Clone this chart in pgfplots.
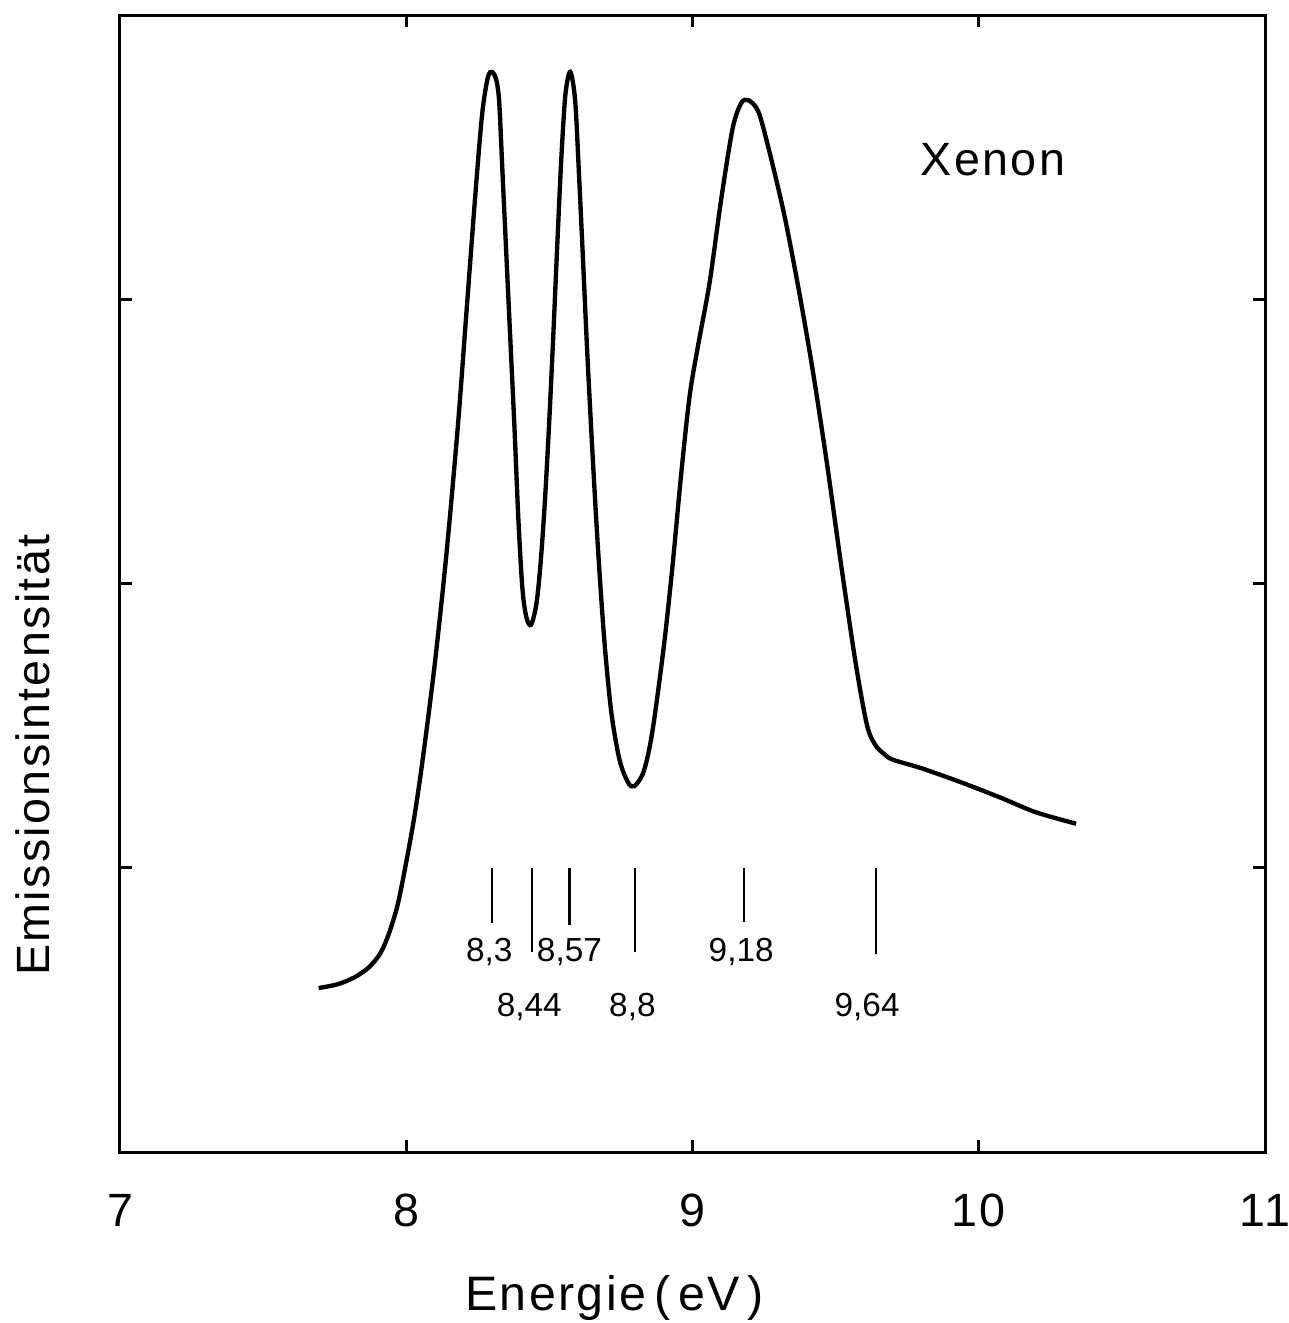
\documentclass[border=0pt]{standalone}
\usepackage{pgfplots}
\pgfplotsset{compat=1.18}
\usepackage{fontspec}
\setmainfont{Liberation Sans}[LetterSpace=5]
\newfontfamily\smallfont{Liberation Sans}[LetterSpace=0]
\begin{document}
\begin{tikzpicture}
\begin{axis}[
  scale only axis,
  width=343.5pt, height=341.1pt,
  xmin=7, xmax=11, ymin=0, ymax=4,
  xtick={7,8,9,10,11},
  ytick={1,2,3}, yticklabels={},
  tick align=inside,
  major tick length=3.6pt,
  axis line style={line width=0.9pt},
  every tick/.style={line width=0.9pt, black},
  /pgf/number format/assume math mode=true,
  xticklabel style={anchor=center, yshift=-17.5pt, font=\fontsize{14}{16}\selectfont},
  xlabel={Energie\,(\,eV\,)},
  xlabel style={at={(axis description cs:0.432,-0.128)}, anchor=center, font=\fontsize{14.5}{17}\selectfont},
  ylabel={Emissionsintensität},
  ylabel style={at={(axis description cs:-0.076,0.349)}, anchor=center, rotate=0, font=\fontsize{14}{17}\selectfont},
  clip=false,
]
\addplot[line width=1.3pt, smooth, tension=0.5] coordinates {
(7.694,0.577) (7.760,0.590) (7.820,0.615) (7.870,0.650) (7.910,0.700) (7.940,0.770)
(7.970,0.870) (8.000,1.020) (8.030,1.190) (8.060,1.400) (8.100,1.720) (8.140,2.100)
(8.180,2.550) (8.210,2.950) (8.240,3.350) (8.265,3.650) (8.285,3.780) (8.300,3.800)
(8.315,3.770) (8.325,3.690) (8.336,3.450) (8.350,3.150) (8.364,2.850) (8.378,2.550)
(8.392,2.220) (8.406,1.980) (8.420,1.880) (8.436,1.855) (8.455,1.930) (8.470,2.080)
(8.485,2.300) (8.500,2.580) (8.514,2.880) (8.528,3.200) (8.542,3.500) (8.556,3.720)
(8.573,3.800) (8.590,3.700) (8.603,3.450) (8.617,3.150) (8.632,2.820) (8.650,2.470)
(8.670,2.120) (8.692,1.800) (8.716,1.550) (8.745,1.380) (8.775,1.300) (8.797,1.287)
(8.830,1.340) (8.860,1.480) (8.900,1.780) (8.930,2.060) (8.960,2.380) (8.990,2.660)
(9.020,2.840) (9.060,3.060) (9.100,3.350) (9.140,3.600) (9.170,3.690) (9.196,3.700)
(9.230,3.660) (9.266,3.530) (9.320,3.300) (9.370,3.040) (9.420,2.750) (9.470,2.420)
(9.520,2.060) (9.570,1.720) (9.610,1.500) (9.640,1.430) (9.670,1.400) (9.700,1.380)
(9.800,1.350) (9.940,1.300) (10.080,1.245) (10.200,1.195) (10.340,1.155)
};
\addplot[line width=0.7pt, unbounded coords=jump] coordinates {
(8.30,1.0) (8.30,0.805) (nan,nan)
(8.44,1.0) (8.44,0.705) (nan,nan)
(8.57,1.0) (8.57,0.800) (nan,nan)
(8.80,1.0) (8.80,0.705) (nan,nan)
(9.18,1.0) (9.18,0.810) (nan,nan)
(9.64,1.0) (9.64,0.695)
};
\node[font=\smallfont\fontsize{10}{11}\selectfont] at (axis cs:8.29,0.705) {8,3};
\node[font=\smallfont\fontsize{10}{11}\selectfont] at (axis cs:8.57,0.705) {8,57};
\node[font=\smallfont\fontsize{10}{11}\selectfont] at (axis cs:9.17,0.705) {9,18};
\node[font=\smallfont\fontsize{10}{11}\selectfont] at (axis cs:8.43,0.51) {8,44};
\node[font=\smallfont\fontsize{10}{11}\selectfont] at (axis cs:8.79,0.51) {8,8};
\node[font=\smallfont\fontsize{10}{11}\selectfont] at (axis cs:9.61,0.51) {9,64};
\node[font=\fontsize{14}{16}\selectfont] at (axis cs:10.05,3.49) {Xenon};
\end{axis}
\pgfresetboundingbox
\path (-36pt,-51.3pt) rectangle (350.4pt,345.6pt);
\end{tikzpicture}
\end{document}
